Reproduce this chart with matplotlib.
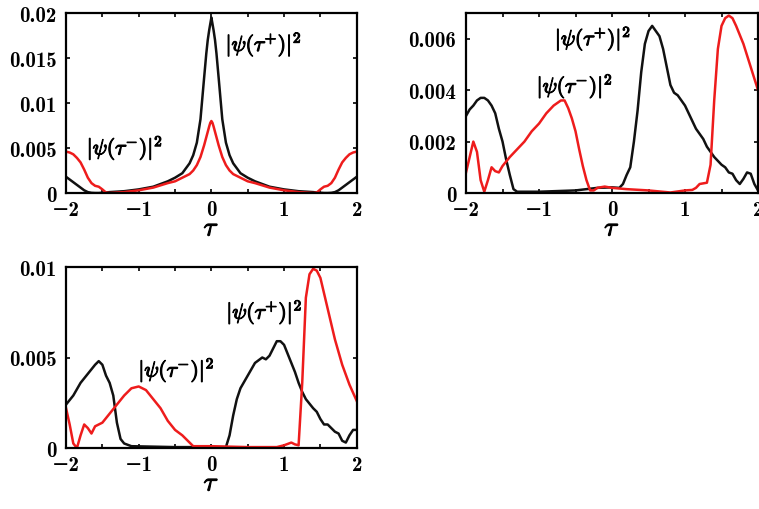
import matplotlib
matplotlib.use("Agg")
import matplotlib.pyplot as plt
import matplotlib.patheffects as pe

plt.rcParams['font.family'] = ['cmb10', 'DejaVu Serif']
plt.rcParams['mathtext.fontset'] = 'cm'
plt.rcParams['axes.unicode_minus'] = True

# ---------------- data ----------------
# Panel 1 (top-left)
p1_x = [-2, -1.95, -1.9, -1.85, -1.8, -1.75, -1.7, -1.65, -1.6, -1.55, -1.5, -1.45, -1.4,
        -1.2, -1.0, -0.8, -0.6, -0.5, -0.4, -0.3, -0.25, -0.2, -0.15, -0.1, -0.07, -0.05,
        -0.03, -0.015, 0, 0.015, 0.03, 0.05, 0.07, 0.1, 0.15, 0.2, 0.25, 0.3, 0.4, 0.5,
        0.6, 0.8, 1.0, 1.2, 1.4, 1.45, 1.5, 1.55, 1.6, 1.65, 1.7, 1.75, 1.8, 1.85, 1.9, 1.95, 2]
p1_plus = [0.0018, 0.0015, 0.0012, 0.0009, 0.0006, 0.0003, 0.0001, 0.00002, 0.0, 0.0, 0.00003,
           0.00006, 0.0001, 0.0002, 0.0004, 0.0007, 0.0013, 0.0017, 0.0022, 0.0033, 0.0042,
           0.0056, 0.0082, 0.0128, 0.0155, 0.0170, 0.0181, 0.0188, 0.0195,
           0.0188, 0.0181, 0.0170, 0.0155, 0.0128, 0.0082, 0.0056, 0.0042, 0.0033, 0.0022,
           0.0017, 0.0013, 0.0007, 0.0004, 0.0002, 0.0001, 0.00006, 0.00003, 0.0, 0.0,
           0.00002, 0.0001, 0.0003, 0.0006, 0.0009, 0.0012, 0.0015, 0.0018]
p1_minus = [0.0046, 0.0045, 0.0043, 0.0039, 0.0034, 0.0026, 0.0017, 0.0011, 0.0008, 0.0007,
            0.0004, 0.00005, 0.0, 0.0001, 0.0003, 0.0006, 0.0011, 0.0013, 0.0017, 0.0021,
            0.0025, 0.0031, 0.0040, 0.0053, 0.0062, 0.0068, 0.0074, 0.0078, 0.008,
            0.0078, 0.0074, 0.0068, 0.0062, 0.0053, 0.0040, 0.0031, 0.0025, 0.0021, 0.0017,
            0.0013, 0.0011, 0.0006, 0.0003, 0.0001, 0.0, 0.00005, 0.0004, 0.0007, 0.0008,
            0.0011, 0.0017, 0.0026, 0.0034, 0.0039, 0.0043, 0.0045, 0.0046]

# Panel 2 (top-right)
p2_x_plus = [-2, -1.95, -1.9, -1.85, -1.8, -1.75, -1.7, -1.65, -1.6, -1.55, -1.5, -1.45, -1.4,
             -1.35, -1.3, -1.0, -0.5, -0.2, 0, 0.1, 0.15, 0.2, 0.25, 0.3, 0.35, 0.4, 0.45, 0.5,
             0.55, 0.6, 0.65, 0.7, 0.75, 0.8, 0.85, 0.9, 0.95, 1.0, 1.05, 1.1, 1.15, 1.2, 1.25,
             1.3, 1.35, 1.4, 1.45, 1.5, 1.55, 1.6, 1.65, 1.7, 1.75, 1.8, 1.85, 1.9, 1.95, 2]
p2_plus = [0.003, 0.00325, 0.0034, 0.0036, 0.0037, 0.0037, 0.0036, 0.0034, 0.0031, 0.0025, 0.002,
           0.0013, 0.0007, 0.00015, 0.00005, 0.00005, 0.0001, 0.0002, 0.00022, 0.0002, 0.00035,
           0.0007, 0.001, 0.002, 0.0032, 0.0047, 0.0058, 0.0063, 0.0065, 0.0063, 0.0061, 0.0056,
           0.0049, 0.0042, 0.0039, 0.0038, 0.0036, 0.0034, 0.0031, 0.0028, 0.0025, 0.0023, 0.0021,
           0.0018, 0.0016, 0.0014, 0.00125, 0.0011, 0.001, 0.0008, 0.00075, 0.0005, 0.00035,
           0.00055, 0.0008, 0.00075, 0.00035, 0.0001]
p2_x_minus = [-2, -1.95, -1.9, -1.85, -1.8, -1.75, -1.7, -1.65, -1.6, -1.55, -1.5, -1.4, -1.3,
              -1.2, -1.1, -1.0, -0.9, -0.8, -0.7, -0.65, -0.6, -0.55, -0.5, -0.45, -0.4, -0.35,
              -0.3, -0.25, -0.2, -0.1, 0, 0.2, 0.5, 0.8, 1.0, 1.1, 1.15, 1.2, 1.3, 1.35, 1.4,
              1.45, 1.5, 1.55, 1.6, 1.65, 1.7, 1.8, 1.9, 2]
p2_minus = [0.0008, 0.0014, 0.002, 0.0016, 0.0005, 0.00005, 0.0005, 0.001, 0.00085, 0.0008,
            0.00105, 0.0014, 0.0017, 0.002, 0.0024, 0.0027, 0.0031, 0.0034, 0.0036, 0.0036,
            0.0033, 0.0029, 0.0024, 0.0017, 0.00105, 0.0005, 0.0001, 0.0001, 0.0002, 0.00025,
            0.0002, 0.00015, 0.0001, 0.00002, 0.0001, 0.00012, 0.0002, 0.00035, 0.0004, 0.0011,
            0.0036, 0.0056, 0.0065, 0.0068, 0.0069, 0.0068, 0.0065, 0.0058, 0.0049, 0.004]

# Panel 3 (bottom-left)
p3_x_plus = [-2, -1.9, -1.8, -1.7, -1.6, -1.55, -1.5, -1.45, -1.4, -1.35, -1.3, -1.25, -1.2,
             -1.1, -0.5, 0.2, 0.25, 0.3, 0.35, 0.4, 0.5, 0.6, 0.7, 0.75, 0.8, 0.85, 0.9, 0.95,
             1.0, 1.05, 1.1, 1.15, 1.2, 1.25, 1.3, 1.4, 1.45, 1.5, 1.55, 1.6, 1.65, 1.7, 1.75,
             1.8, 1.85, 1.9, 1.95, 2]
p3_plus = [0.0024, 0.0029, 0.0036, 0.0041, 0.0046, 0.0048, 0.0046, 0.004, 0.0036, 0.0029,
           0.0014, 0.0005, 0.00025, 0.0001, 0.00005, 0.00005, 0.0007, 0.0018, 0.0027, 0.0033,
           0.004, 0.0047, 0.005, 0.0049, 0.0051, 0.0055, 0.0059, 0.0059, 0.0057, 0.0052, 0.0047,
           0.0042, 0.0036, 0.0031, 0.0027, 0.0022, 0.002, 0.0016, 0.0013, 0.0013, 0.0011, 0.0009,
           0.0008, 0.0004, 0.0003, 0.0007, 0.001, 0.001]
p3_x_minus = [-2, -1.95, -1.9, -1.85, -1.8, -1.75, -1.7, -1.65, -1.6, -1.55, -1.5, -1.4, -1.3,
              -1.2, -1.1, -1.0, -0.95, -0.9, -0.8, -0.7, -0.6, -0.5, -0.4, -0.3, -0.25, 0, 0.5,
              0.9, 1.0, 1.1, 1.15, 1.2, 1.25, 1.3, 1.35, 1.4, 1.45, 1.5, 1.6, 1.7, 1.8, 1.9, 2]
p3_minus = [0.0022, 0.0013, 0.00025, 0.0, 0.0007, 0.0013, 0.0011, 0.0008, 0.0012, 0.0013,
            0.0014, 0.0019, 0.0024, 0.0029, 0.0033, 0.0034, 0.0033, 0.0032, 0.0027, 0.0022,
            0.0015, 0.001, 0.0007, 0.0003, 0.0001, 0.0001, 0.00005, 0.00005, 0.00015, 0.0003,
            0.0002, 0.00015, 0.0036, 0.0083, 0.0096, 0.0099, 0.0098, 0.0094, 0.0077, 0.006,
            0.0046, 0.0035, 0.0026]

x_ticks = [-2, -1.5, -1, -0.5, 0, 0.5, 1, 1.5, 2]
x_ticklabels = ['−2', '', '−1', '', '0', '', '1', '', '2']
p1_yticks = [0, 0.005, 0.01, 0.015, 0.02]
p1_yticklabels = ['0', '0.005', '0.01', '0.015', '0.02']
p2_yticks = [0, 0.002, 0.004, 0.006]
p2_yticklabels = ['0', '0.002', '0.004', '0.006']
p3_yticks = [0, 0.005, 0.01]
p3_yticklabels = ['0', '0.005', '0.01']

label_plus = r'$|\psi(\tau^{+})|^{2}$'
label_minus = r'$|\psi(\tau^{-})|^{2}$'

RED = '#ee1c1c'
BLACK = '#111111'

fig = plt.figure(figsize=(7.59, 5.10), dpi=100)

bold = [pe.withStroke(linewidth=0.8, foreground='black')]
ANN = 15.5


def style(ax, ymax, yticks, ylabels):
    ax.set_xlim(-2, 2)
    ax.set_ylim(0, ymax)
    ax.set_xticks(x_ticks)
    ax.set_xticklabels(x_ticklabels)
    ax.set_yticks(yticks)
    ax.set_yticklabels(ylabels)
    ax.tick_params(direction='in', top=True, right=True, length=3, width=1.2,
                   labelsize=15)
    ax.tick_params(axis='y', pad=7)
    ax.tick_params(axis='x', pad=5)
    for s in ax.spines.values():
        s.set_linewidth(1.6)
    ax.set_xlabel(r'$\tau$', fontsize=19, labelpad=-1)
    ax.xaxis.label.set_path_effects(bold)


ax1 = fig.add_axes([0.087, 0.6196, 0.383, 0.3529])
ax1.plot(p1_x, p1_plus, color=BLACK, lw=1.8)
ax1.plot(p1_x, p1_minus, color=RED, lw=1.8)
style(ax1, 0.02, p1_yticks, p1_yticklabels)
ax1.text(0.72, 0.0165, label_plus, fontsize=ANN, ha='center', va='center', path_effects=bold)
ax1.text(-1.19, 0.0050, label_minus, fontsize=ANN, ha='center', va='center', path_effects=bold)

ax2 = fig.add_axes([0.614, 0.6196, 0.3847, 0.3529])
ax2.plot(p2_x_plus, p2_plus, color=BLACK, lw=1.8)
ax2.plot(p2_x_minus, p2_minus, color=RED, lw=1.8)
style(ax2, 0.007, p2_yticks, p2_yticklabels)
ax2.text(-0.26, 0.0060, label_plus, fontsize=ANN, ha='center', va='center', path_effects=bold)
ax2.text(-0.51, 0.00415, label_minus, fontsize=ANN, ha='center', va='center', path_effects=bold)

ax3 = fig.add_axes([0.087, 0.1196, 0.383, 0.3549])
ax3.plot(p3_x_plus, p3_plus, color=BLACK, lw=1.8)
ax3.plot(p3_x_minus, p3_minus, color=RED, lw=1.8)
style(ax3, 0.01, p3_yticks, p3_yticklabels)
ax3.text(0.73, 0.0075, label_plus, fontsize=ANN, ha='center', va='center', path_effects=bold)
ax3.text(-0.48, 0.0043, label_minus, fontsize=ANN, ha='center', va='center', path_effects=bold)

fig.savefig('out.png', dpi=100)
